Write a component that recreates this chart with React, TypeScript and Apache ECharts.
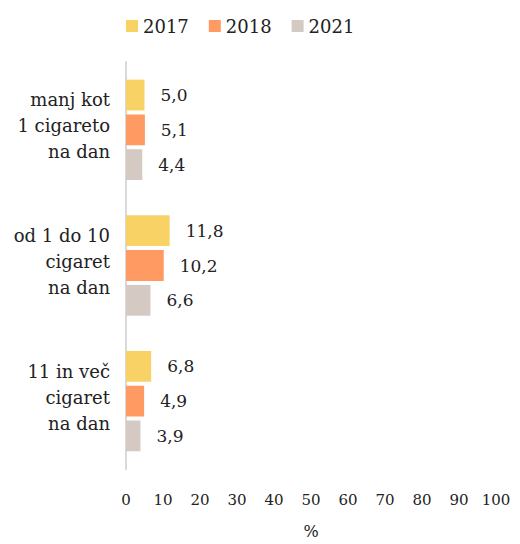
import React, { useEffect, useRef } from "react";
import * as echarts from "echarts";

const categories = ["manj kot\n1 cigareto\nna dan", "od 1 do 10\ncigaret\nna dan", "11 in več\ncigaret\nna dan"];
const seriesNames = ["2017", "2018", "2021"];
const values2017 = [5.0, 11.8, 6.8];
const values2018 = [5.1, 10.2, 4.9];
const values2021 = [4.4, 6.6, 3.9];
const colors = ["#F9D266", "#FF9A62", "#D4C9C3"];
const FONT = "DejaVu Serif";

export default function App() {
  const ref = useRef<HTMLDivElement>(null);
  useEffect(() => {
    if (!ref.current) return;
    const chart = echarts.init(ref.current, null, { renderer: "svg" });
    const data = [values2017, values2018, values2021];
    chart.setOption({
      animation: false,
      textStyle: { fontFamily: FONT },
      legend: {
        top: 12,
        left: 121,
        itemWidth: 12,
        itemHeight: 12,
        itemGap: 20,
        icon: "rect",
        textStyle: { fontFamily: FONT, fontSize: 18, color: "#222" },
        data: seriesNames,
      },
      grid: { left: 126, right: 24, top: 62, bottom: 74, containLabel: false },
      xAxis: {
        type: "value",
        min: 0,
        max: 100,
        interval: 10,
        name: "%",
        nameLocation: "middle",
        nameGap: 54,
        nameTextStyle: { fontFamily: FONT, fontSize: 16, color: "#222" },
        axisLine: { show: false },
        axisTick: { show: false },
        splitLine: { show: false },
        axisLabel: { fontFamily: FONT, fontSize: 15, color: "#222", margin: 23 },
      },
      yAxis: {
        type: "category",
        inverse: true,
        data: categories,
        axisLine: { show: true, lineStyle: { color: "#D9D9D9", width: 2 } },
        axisTick: { show: false },
        axisLabel: {
          fontFamily: FONT,
          fontSize: 18,
          color: "#222",
          lineHeight: 26,
          margin: 16,
          align: "right",
          formatter: (v: string) =>
            v.split("\n").map((l) => `{a|${l}}`).join("\n") + "\n{s| }",
          rich: {
            a: { fontFamily: FONT, fontSize: 18, color: "#222", lineHeight: 26, align: "right" },
            s: { fontSize: 4, lineHeight: 8, align: "right" },
          },
        },
      },
      series: seriesNames.map((name, i) => ({
        name,
        type: "bar",
        data: data[i],
        barGap: "13%",
        barCategoryGap: "26%",
        itemStyle: { color: colors[i] },
        label: {
          show: true,
          position: "right",
          distance: 16,
          fontFamily: FONT,
          fontSize: 17,
          color: "#222",
          padding: [2, 0, 0, 0],
          formatter: (p: any) => p.value.toFixed(1).replace(".", ","),
        },
      })),
    });
    return () => chart.dispose();
  }, []);
  return <div ref={ref} style={{ position: "absolute", left: 0, top: 0, width: 520, height: 544 }} />;
}
